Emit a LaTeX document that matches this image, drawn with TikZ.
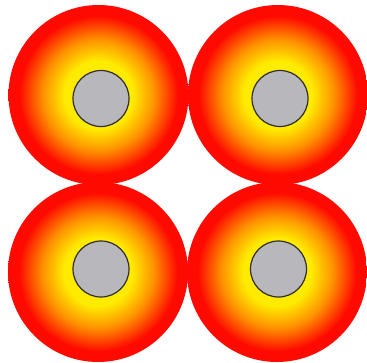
\documentclass[tikz,border=0pt]{standalone}
\usetikzlibrary{shadings}
\definecolor{glowred}{RGB}{255,10,0}
\definecolor{glowyellow}{RGB}{255,235,0}
\definecolor{glowor}{RGB}{255,145,0}
\definecolor{coregray}{RGB}{183,183,188}
\definecolor{coreline}{RGB}{50,45,45}
\pgfdeclareradialshading{glow}{\pgfpoint{0bp}{0bp}}{%
  color(0bp)=(glowyellow);
  color(9.5bp)=(glowyellow);
  color(15.5bp)=(glowor);
  color(22bp)=(glowred);
  color(25bp)=(glowred);
  color(50bp)=(glowred)}
\tikzset{
  outerball/.style={circle, inner sep=0pt, minimum size=180pt, shading=glow},
  corecircle/.style={circle, inner sep=0pt, minimum size=56pt, fill=coregray, draw=coreline, line width=1.2pt}
}
\begin{document}
\begin{tikzpicture}[x=1pt,y=-1pt]
\useasboundingbox (0,0) rectangle (367,362);
\clip (0,0) rectangle (367,362);
\node[outerball] (o1) at (98.5,95) {};
\node[outerball] (o2) at (278,95) {};
\node[outerball] (o3) at (98,272) {};
\node[outerball] (o4) at (277,272) {};
\node[corecircle] (c1) at (101,98.5) {};
\node[corecircle] (c2) at (280,98.5) {};
\node[corecircle] (c3) at (101,269) {};
\node[corecircle] (c4) at (278.5,269) {};
\end{tikzpicture}
\end{document}
